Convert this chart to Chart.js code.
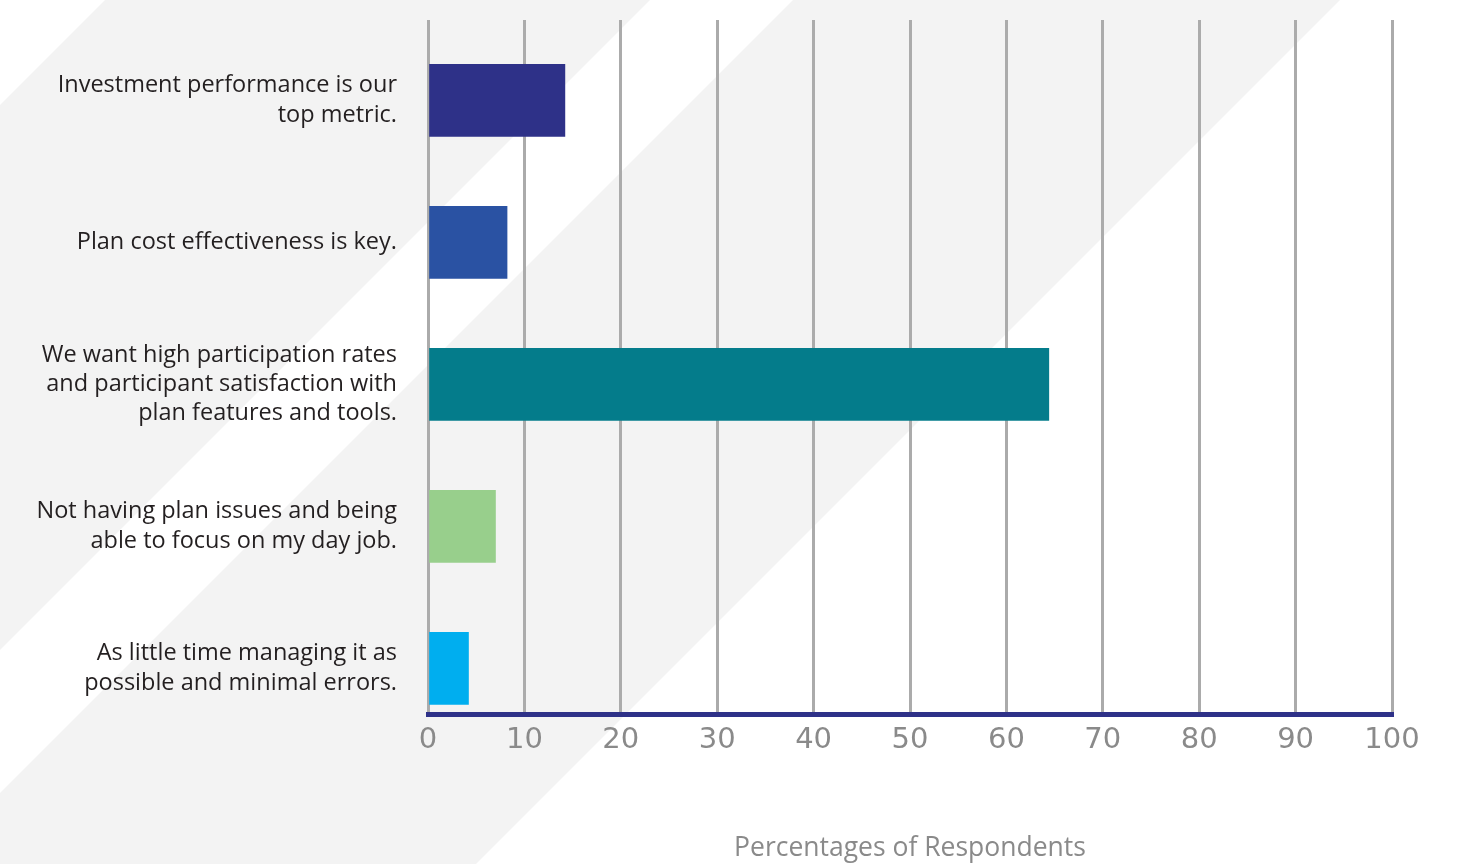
<!DOCTYPE html>
<html>
<head>
<meta charset="utf-8">
<script src="https://cdn.jsdelivr.net/npm/chart.js@4/dist/chart.umd.min.js"></script>
<style>
  html, body { margin: 0; padding: 0; background: #ffffff; }
  #wrap { position: relative; width: 1466px; height: 864px; }
</style>
</head>
<body>
<div id="wrap"><canvas id="c"></canvas></div>
<script>
// ---- data ----
const categories = [
  ["Investment performance is our", "top metric."],
  ["Plan cost effectiveness is key."],
  ["We want high participation rates", "and participant satisfaction with", "plan features and tools."],
  ["Not having plan issues and being", "able to focus on my day job."],
  ["As little time managing it as", "possible and minimal errors."]
];
const values = [14.2, 8.2, 64.4, 7.0, 4.2];
const barColors = ["#2e3188", "#2a52a3", "#047c8b", "#98cf8c", "#00aeef"];
const xTicks = [0, 10, 20, 30, 40, 50, 60, 70, 80, 90, 100];
const axisTitle = "Percentages of Respondents";

// decorative diagonal background bands
const bgBands = {
  id: 'bgBands',
  beforeDraw(chart) {
    const ctx = chart.ctx;
    const W = chart.width, H = chart.height;
    ctx.save();
    ctx.fillStyle = '#ffffff';
    ctx.fillRect(0, 0, W, H);
    ctx.fillStyle = '#f3f3f3';
    const bands = [[105, 650], [793, 1340]];
    for (const [a, b] of bands) {
      ctx.beginPath();
      ctx.moveTo(a, 0);
      ctx.lineTo(b, 0);
      ctx.lineTo(b - 3000, 3000);
      ctx.lineTo(a - 3000, 3000);
      ctx.closePath();
      ctx.fill();
    }
    ctx.restore();
  }
};

new Chart(document.getElementById('c'), {
  type: 'bar',
  data: {
    datasets: [{
      data: values.map((v, i) => ({ x: v, y: i })),
      backgroundColor: barColors,
      borderWidth: 0,
      barThickness: 72
    }]
  },
  options: {
    indexAxis: 'y',
    responsive: true,
    maintainAspectRatio: false,
    animation: false,
    layout: { padding: { top: 20, right: 74, left: 0, bottom: 0 } },
    plugins: {
      legend: { display: false },
      tooltip: { enabled: false }
    },
    scales: {
      x: {
        type: 'linear',
        position: 'bottom',
        min: 0,
        max: 100,
        afterBuildTicks(scale) { scale.ticks = xTicks.map(v => ({ value: v })); },
        afterFit(scale) { scale.height = 149.5; },
        grid: { color: '#ababab', lineWidth: 3, drawTicks: false },
        border: { display: true, color: '#2e3188', width: 5 },
        ticks: {
          padding: 9,
          color: '#8a8a8a',
          font: { family: 'DejaVu Sans', size: 29 }
        },
        title: {
          display: true,
          text: axisTitle,
          color: '#8a8a8a',
          font: { family: 'Open Sans', size: 26.5 },
          padding: { top: 0, bottom: 0 }
        }
      },
      y: {
        type: 'linear',
        reverse: true,
        offset: false,
        min: -0.566,
        max: 4.325,
        afterBuildTicks(scale) { scale.ticks = categories.map((_, i) => ({ value: i })); },
        afterFit(scale) {
          scale.width = 428;
          scale.paddingTop = 0;
          scale.paddingBottom = 0;
        },
        grid: { display: false, drawTicks: false, offset: false },
        border: { display: false },
        ticks: {
          padding: 31,
          color: '#231f20',
          font: { family: 'Open Sans', size: 23.5, lineHeight: 1.24 },
          callback: (v) => categories[v]
        }
      }
    }
  },
  plugins: [bgBands]
});
</script>
</body>
</html>
